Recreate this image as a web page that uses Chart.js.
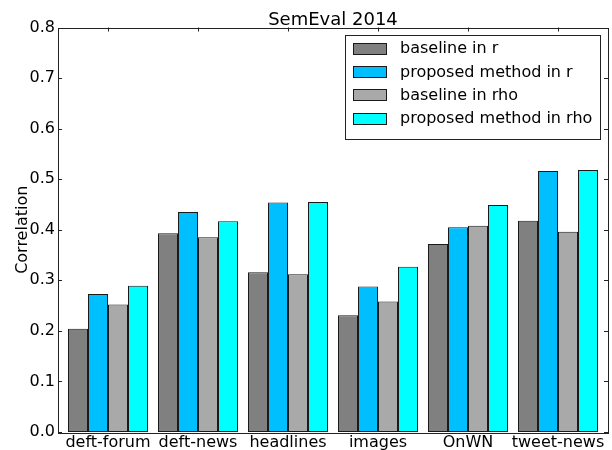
<!DOCTYPE html>
<html>
<head>
<meta charset="utf-8">
<script src="https://cdn.jsdelivr.net/npm/chart.js@4/dist/chart.umd.min.js"></script>
<style>
  html, body { margin: 0; padding: 0; background: #fff; }
  canvas { display: block; }
</style>
</head>
<body>
<canvas id="chart" width="612" height="450"></canvas>
<script>
// SemEval 2014 correlation results per test set
const categories = ['deft-forum', 'deft-news', 'headlines', 'images', 'OnWN', 'tweet-news'];
const seriesNames = ['baseline in r', 'proposed method in r', 'baseline in rho', 'proposed method in rho'];
const baselineR   = [0.204, 0.393, 0.316, 0.231, 0.372, 0.418];
const proposedR   = [0.273, 0.435, 0.454, 0.288, 0.405, 0.516];
const baselineRho = [0.252, 0.385, 0.312, 0.258, 0.408, 0.396];
const proposedRho = [0.289, 0.417, 0.455, 0.327, 0.449, 0.518];
const yTickValues = [0.0, 0.1, 0.2, 0.3, 0.4, 0.5, 0.6, 0.7, 0.8];
const seriesColors = ['#808080', '#00BFFF', '#A9A9A9', '#00FFFF'];
const chartTitle = 'SemEval 2014';

const FONT = '"DejaVu Sans", "Liberation Sans", sans-serif';
Chart.defaults.font.family = FONT;
Chart.defaults.color = '#000';

const seriesValues = [baselineR, proposedR, baselineRho, proposedRho];

// margin (in category units) between the outer groups and the frame
const edge = 1 / 18;

const datasets = seriesValues.map((vals, k) => ({
  label: seriesNames[k],
  data: vals.map((v, i) => ({ x: i, y: v })),
  backgroundColor: seriesColors[k],
  borderColor: '#1a1a1a',
  borderWidth: 1,
  borderSkipped: false,
  categoryPercentage: 8 / 9,
  barPercentage: 1.0
}));

// title centred over the plot area
const plotTitle = {
  id: 'plotTitle',
  afterDraw(chart) {
    const { ctx, chartArea: a } = chart;
    ctx.save();
    ctx.font = '18px ' + FONT;
    ctx.fillStyle = '#000';
    ctx.textAlign = 'center';
    ctx.textBaseline = 'alphabetic';
    ctx.fillText(chartTitle, (a.left + a.right) / 2, 24.5);
    ctx.restore();
  }
};

// frame around the plot plus inward tick marks on all four sides
const frameTicks = {
  id: 'frameTicks',
  afterDatasetsDraw(chart) {
    const { ctx, chartArea: a, scales: { x, y } } = chart;
    ctx.save();
    ctx.strokeStyle = '#222';
    ctx.lineWidth = 1;
    ctx.beginPath();
    y.ticks.forEach(t => {
      const py = Math.round(y.getPixelForValue(t.value)) + 0.5;
      ctx.moveTo(a.left, py); ctx.lineTo(a.left + 4, py);
      ctx.moveTo(a.right, py); ctx.lineTo(a.right - 4, py);
    });
    x.ticks.forEach(t => {
      const px = Math.round(x.getPixelForValue(t.value)) + 0.5;
      ctx.moveTo(px, a.top); ctx.lineTo(px, a.top + 4);
      ctx.moveTo(px, a.bottom); ctx.lineTo(px, a.bottom - 4);
    });
    ctx.stroke();
    ctx.strokeRect(Math.round(a.left) + 0.5, Math.round(a.top) + 0.5,
                   Math.round(a.right - a.left), Math.round(a.bottom - a.top));
    ctx.restore();
  }
};

// boxed legend in the upper right corner of the plot
const boxLegend = {
  id: 'boxLegend',
  afterDraw(chart) {
    const { ctx, chartArea: a } = chart;
    ctx.save();
    ctx.font = '16px ' + FONT;
    const labels = chart.data.datasets.map(d => d.label);
    const maxW = Math.max(...labels.map(l => ctx.measureText(l).width));
    const pad = 8, handleW = 33, handleH = 11, gap = 13.5, rowH = 23.3;
    const boxW = pad + handleW + gap + maxW + pad;
    const boxH = pad + rowH * labels.length + 3;
    const bx = Math.round(a.right - 8.5 - boxW) + 0.5;
    const by = Math.round(a.top + 7.5) + 0.5;
    ctx.fillStyle = '#fff';
    ctx.fillRect(bx, by, boxW, boxH);
    ctx.strokeStyle = '#222';
    ctx.lineWidth = 1;
    ctx.strokeRect(bx, by, Math.round(boxW), Math.round(boxH));
    chart.data.datasets.forEach((d, k) => {
      const cy = by + 12.8 + k * rowH;
      const hx = bx + pad;
      ctx.fillStyle = d.backgroundColor;
      ctx.fillRect(hx, Math.round(cy - handleH / 2) + 0.5, handleW, handleH);
      ctx.strokeStyle = '#1a1a1a';
      ctx.strokeRect(hx, Math.round(cy - handleH / 2) + 0.5, handleW, handleH);
      ctx.fillStyle = '#000';
      ctx.textBaseline = 'middle';
      ctx.textAlign = 'left';
      ctx.fillText(d.label, hx + handleW + gap, cy + 1);
    });
    ctx.restore();
  }
};

new Chart(document.getElementById('chart'), {
  type: 'bar',
  data: { datasets },
  options: {
    responsive: false,
    animation: false,
    devicePixelRatio: 1,
    layout: { padding: { top: 27.5, right: 4, bottom: 0, left: 0 } },
    plugins: {
      legend: { display: false },
      tooltip: { enabled: false },
      title: { display: false }
    },
    scales: {
      x: {
        type: 'linear',
        offset: false,
        min: -0.5 - edge,
        max: categories.length - 0.5 + edge,
        afterBuildTicks: s => { s.ticks = categories.map((_, i) => ({ value: i })); },
        afterFit: s => { s.height = 18; },
        grid: { display: false, drawTicks: false },
        border: { display: false },
        ticks: {
          autoSkip: false,
          maxRotation: 0,
          padding: 1,
          color: '#000',
          font: { size: 16, family: FONT },
          callback: (v, i) => categories[i]
        }
      },
      y: {
        min: 0,
        max: 0.8,
        afterBuildTicks: s => { s.ticks = yTickValues.map(v => ({ value: v })); },
        afterFit: s => { s.width = 58; },
        grid: { display: false, drawTicks: false },
        border: { display: false },
        ticks: {
          padding: 3,
          color: '#000',
          font: { size: 16, family: FONT },
          callback: v => Number(v).toFixed(1)
        },
        title: {
          display: true,
          text: 'Correlation',
          color: '#000',
          font: { size: 16, family: FONT },
          padding: { top: 13, bottom: 0 }
        }
      }
    }
  },
  plugins: [frameTicks, boxLegend, plotTitle]
});
</script>
</body>
</html>
